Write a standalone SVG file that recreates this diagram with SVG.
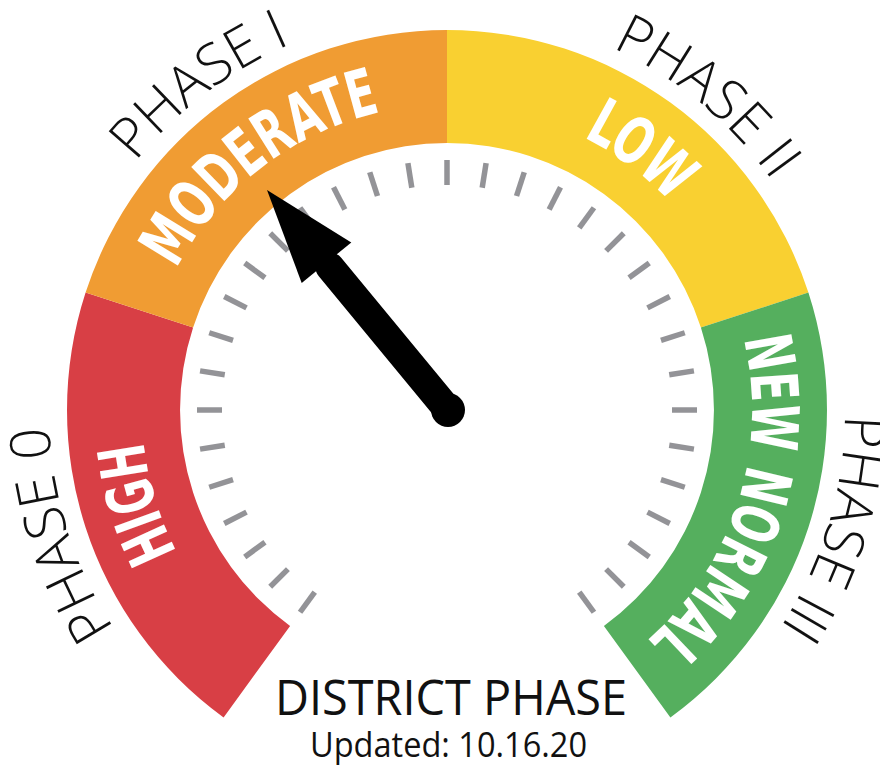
<svg xmlns="http://www.w3.org/2000/svg" xmlns:xlink="http://www.w3.org/1999/xlink" width="880" height="767" viewBox="0 0 880 767">
<style>
.band{font-family:"DejaVu Sans Condensed","Liberation Sans Narrow","Liberation Sans",sans-serif;font-weight:bold;font-size:65px;fill:#ffffff}
.phase{font-family:"Open Sans","Lato","Liberation Sans",sans-serif;font-weight:300;font-size:56px;fill:#111111}
.title{font-family:"Open Sans","Liberation Sans",sans-serif;fill:#111111}
.tick{stroke:#939397;stroke-width:5.5}
</style>
<defs>
<line id="tick" class="tick" x1="447" y1="160" x2="447" y2="185"/>
<path id="pModerate" d="M169.46,283.52 A305,305 0 0 1 396.66,109.18"/>
<path id="pLow" d="M560.27,126.81 A305,305 0 0 1 686.80,221.51"/>
<path id="pHigh" d="M187.78,570.72 A305,305 0 0 1 142.15,419.58"/>
<path id="pNewNormal" d="M736.58,314.23 A305,305 0 0 1 627.56,655.81"/>
<path id="pPh1" d="M97.89,218.87 A398,398 0 0 1 355.44,22.67"/>
<path id="pPh2" d="M554.70,26.85 A398,398 0 0 1 803.80,233.66"/>
<path id="pPh0" d="M150.30,675.28 A398,398 0 0 1 51.33,367.02"/>
<path id="pPh3" d="M841.95,360.81 A398,398 0 0 1 747.83,670.59"/>
</defs>
<rect width="880" height="767" fill="#ffffff"/>
<g id="segment-high">
<path d="M223.6,717.4 A380,380 0 0 1 85.6,292.6 L193.1,327.5 A267,267 0 0 0 290.1,626.0 Z" fill="#d83f45"/>
<text class="band"><textPath xlink:href="#pHigh" href="#pHigh" startOffset="50%" text-anchor="middle" textLength="116" lengthAdjust="spacingAndGlyphs">HIGH</textPath></text>
</g>
<g id="segment-moderate">
<path d="M85.6,292.6 A380,380 0 0 1 447,30 L447,143 A267,267 0 0 0 193.1,327.5 Z" fill="#f09c33"/>
<text class="band"><textPath xlink:href="#pModerate" href="#pModerate" startOffset="50%" text-anchor="middle" textLength="266" lengthAdjust="spacingAndGlyphs">MODERATE</textPath></text>
</g>
<g id="segment-low">
<path d="M447,30 A380,380 0 0 1 808.4,292.6 L700.9,327.5 A267,267 0 0 0 447,143 Z" fill="#f9d031"/>
<text class="band"><textPath xlink:href="#pLow" href="#pLow" startOffset="50%" text-anchor="middle" textLength="110" lengthAdjust="spacingAndGlyphs">LOW</textPath></text>
</g>
<g id="segment-new-normal">
<path d="M808.4,292.6 A380,380 0 0 1 670.4,717.4 L603.9,626.0 A267,267 0 0 0 700.9,327.5 Z" fill="#55af5e"/>
<text class="band"><textPath xlink:href="#pNewNormal" href="#pNewNormal" startOffset="50%" text-anchor="middle" textLength="332" lengthAdjust="spacingAndGlyphs">NEW NORMAL</textPath></text>
</g>
<g id="phase-labels">
<text class="phase"><textPath xlink:href="#pPh0" href="#pPh0" startOffset="50%" text-anchor="middle">PHASE 0</textPath></text>
<text class="phase"><textPath xlink:href="#pPh1" href="#pPh1" startOffset="50%" text-anchor="middle">PHASE I</textPath></text>
<text class="phase"><textPath xlink:href="#pPh2" href="#pPh2" startOffset="50%" text-anchor="middle">PHASE II</textPath></text>
<text class="phase"><textPath xlink:href="#pPh3" href="#pPh3" startOffset="50%" text-anchor="middle">PHASE III</textPath></text>
</g>
<g id="ticks">
<use href="#tick" transform="rotate(-144 447 410)"/>
<use href="#tick" transform="rotate(-135 447 410)"/>
<use href="#tick" transform="rotate(-126 447 410)"/>
<use href="#tick" transform="rotate(-117 447 410)"/>
<use href="#tick" transform="rotate(-108 447 410)"/>
<use href="#tick" transform="rotate(-99 447 410)"/>
<use href="#tick" transform="rotate(-90 447 410)"/>
<use href="#tick" transform="rotate(-81 447 410)"/>
<use href="#tick" transform="rotate(-72 447 410)"/>
<use href="#tick" transform="rotate(-63 447 410)"/>
<use href="#tick" transform="rotate(-54 447 410)"/>
<use href="#tick" transform="rotate(-45 447 410)"/>
<use href="#tick" transform="rotate(-36 447 410)"/>
<use href="#tick" transform="rotate(-27 447 410)"/>
<use href="#tick" transform="rotate(-18 447 410)"/>
<use href="#tick" transform="rotate(-9 447 410)"/>
<use href="#tick"/>
<use href="#tick" transform="rotate(9 447 410)"/>
<use href="#tick" transform="rotate(18 447 410)"/>
<use href="#tick" transform="rotate(27 447 410)"/>
<use href="#tick" transform="rotate(36 447 410)"/>
<use href="#tick" transform="rotate(45 447 410)"/>
<use href="#tick" transform="rotate(54 447 410)"/>
<use href="#tick" transform="rotate(63 447 410)"/>
<use href="#tick" transform="rotate(72 447 410)"/>
<use href="#tick" transform="rotate(81 447 410)"/>
<use href="#tick" transform="rotate(90 447 410)"/>
<use href="#tick" transform="rotate(99 447 410)"/>
<use href="#tick" transform="rotate(108 447 410)"/>
<use href="#tick" transform="rotate(117 447 410)"/>
<use href="#tick" transform="rotate(126 447 410)"/>
<use href="#tick" transform="rotate(135 447 410)"/>
<use href="#tick" transform="rotate(144 447 410)"/>
</g>
<g id="needle">
<line x1="448" y1="410" x2="330" y2="267" stroke="#000000" stroke-width="29" stroke-linecap="round"/>
<circle cx="448" cy="410" r="17" fill="#000000"/>
<polygon points="267,190 351.3,242.4 301.7,283.0" fill="#000000"/>
</g>
<g id="caption">
<text class="title" x="451" y="715" font-size="49" text-anchor="middle" textLength="352" lengthAdjust="spacingAndGlyphs">DISTRICT PHASE</text>
<text class="title" x="448.5" y="757" font-size="34" text-anchor="middle" textLength="277" lengthAdjust="spacingAndGlyphs">Updated: 10.16.20</text>
</g>
</svg>
